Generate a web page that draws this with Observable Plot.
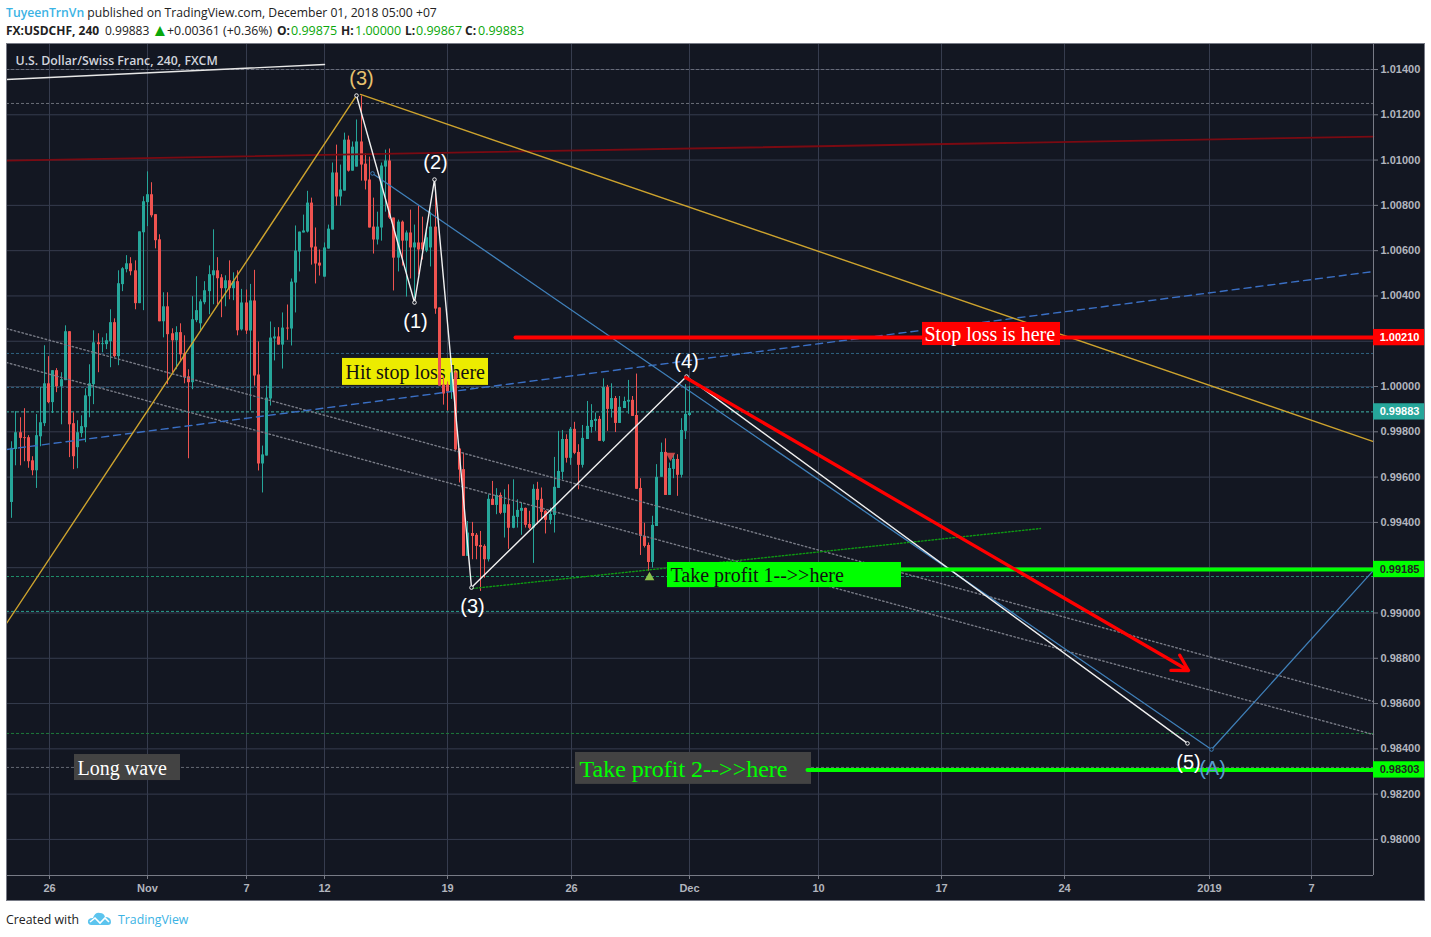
<!DOCTYPE html>
<html><head><meta charset="utf-8">
<script src="https://cdn.jsdelivr.net/npm/d3@7"></script>
<script src="https://cdn.jsdelivr.net/npm/@observablehq/plot@0.6"></script>
<style>
html,body{margin:0;padding:0;background:#fff;width:1431px;height:937px;overflow:hidden}
.h{position:absolute;left:6px;white-space:nowrap;font:12.3px "Open Sans",sans-serif;color:#222}
.u{color:#3bb3e4}.g{color:#0aa70a}.b{font-weight:700}
.v{position:absolute;top:0}
#chart svg{position:absolute;left:6px;top:43px}
</style></head><body>
<div class="h" style="top:4px;font-size:12.2px"><span class="u" style="font-weight:600">TuyeenTrnVn</span> published on TradingView.com, December 01, 2018 05:00 +07</div>
<div class="h" style="top:22px;width:530px;height:18px;font-size:12px">
<span class="v b" style="left:0">FX:USDCHF, 240</span>
<span class="v" style="left:99px">0.99883</span>
<span class="v g" style="left:145.5px;font-size:17px;top:-4px">▲</span>
<span class="v" style="left:161px;font-size:12.4px">+0.00361 (+0.36%)</span>
<span class="v b" style="left:271px">O:</span><span class="v g" style="left:285px;font-size:12.5px">0.99875</span>
<span class="v b" style="left:335px">H:</span><span class="v g" style="left:349px;font-size:12.5px">1.00000</span>
<span class="v b" style="left:399px">L:</span><span class="v g" style="left:410px;font-size:12.5px">0.99867</span>
<span class="v b" style="left:459px">C:</span><span class="v g" style="left:472px;font-size:12.5px">0.99883</span>
</div>
<div id="chart"></div>
<div class="h" style="top:911px">Created with</div>
<svg style="position:absolute;left:87px;top:910px" width="25" height="17" viewBox="0 0 25 17"><path d="M1 13 Q0 8 6 8 Q8 2 13 3 Q17 3 18 7 Q24 7 24 12 Q24 15 21 15 L4 15 Q2 15 1 13Z" fill="#5cc4ee"/><path d="M3 12 L8 8 L13 13 L18 8 L22 12" fill="none" stroke="#fff" stroke-width="1.6"/></svg>
<div class="h u" style="top:911px;left:118px">TradingView</div>
<script>
// OHLC of the 4h candles, in 1e-5 price points
const open=[99488,99722,99796,99774,99774,99672,99628,99778,99836,100012,99929,100070,99999,100026,100242,99836,99730,99792,99818,99955,100008,100193,100185,100185,100198,100282,100132,100450,100516,100542,100511,100366,100679,100812,100847,100759,100648,100286,100352,100233,100202,100238,100145,100043,100017,100291,100277,100370,100419,100489,100511,100480,100432,100467,100432,100463,100250,100369,100245,100378,100051,99658,99693,99945,100210,100219,100183,100258,100254,100457,100594,100678,100682,100810,100616,100545,100483,100607,100691,100943,100837,100863,101088,100951,100969,101080,100982,100912,100704,100647,100700,100969,100996,100744,100567,100726,100642,100678,100612,100634,100634,100598,100612,100704,100347,100007,100007,99976,100060,99724,99633,99250,99351,99343,99298,99294,99235,99502,99475,99519,99440,99478,99374,99422,99449,99462,99391,99374,99546,99502,99449,99409,99431,99550,99621,99766,99683,99811,99709,99652,99766,99819,99846,99855,99758,99996,99899,99947,99837,99903,99931,99939,99872,99550,99338,99298,99223,99382,99599,99709,99519,99634,99678,99608,99802,99872];
const high=[99756,99889,99862,99902,99783,99690,99876,99996,100180,100132,100070,100079,100061,100268,100242,99884,99849,99871,99990,100096,100246,100233,100215,100233,100339,100299,100511,100525,100578,100569,100555,100683,100838,100948,100900,100759,100670,100414,100414,100255,100264,100277,100224,100074,100397,100485,100383,100463,100533,100692,100569,100494,100489,100555,100502,100511,100429,100426,100451,100513,100197,99737,100002,100285,100260,100260,100325,100360,100475,100709,100682,100757,100862,100832,100700,100603,100634,100713,100987,101066,100978,101119,101106,101080,101177,101283,101027,101013,100832,100770,100987,101044,101049,100744,100735,100731,100687,100779,100713,100797,100748,100701,100770,100878,100347,100046,100020,100113,100068,99726,99706,99404,99400,99351,99360,99301,99522,99581,99549,99530,99544,99566,99588,99500,99485,99463,99449,99566,99577,99552,99452,99463,99687,99802,99806,99787,99819,99842,99743,99828,99934,99920,99883,99868,100034,100005,100012,99956,99956,99953,100027,99956,100055,99593,99396,99309,99427,99655,99750,99769,99662,99699,99699,99858,100008,100000];
const low=[99418,99650,99650,99668,99639,99606,99550,99734,99823,99924,99881,99973,99831,100026,99686,99633,99637,99774,99752,99862,99920,100061,100149,100163,100083,100127,100092,100419,100502,100489,100339,100366,100335,100706,100745,100608,100286,100215,100008,100061,100074,100114,100012,99681,99986,100282,100242,100361,100317,100361,100361,100304,100352,100383,100379,100224,100245,100230,99892,100002,99627,99530,99693,99914,100113,100183,100077,100204,100179,100325,100506,100678,100678,100536,100453,100488,100483,100607,100691,100797,100797,100863,100947,100951,100969,100907,100868,100700,100585,100625,100642,100770,100738,100422,100506,100532,100395,100475,100386,100492,100559,100591,100528,100319,100002,99918,99892,99943,99715,99574,99250,99250,99235,99235,99095,99154,99225,99475,99434,99434,99331,99281,99372,99375,99343,99375,99368,99219,99390,99412,99349,99390,99353,99550,99588,99662,99652,99699,99544,99640,99766,99794,99802,99758,99753,99802,99861,99797,99837,99903,99878,99868,99546,99254,99287,99184,99198,99382,99599,99519,99519,99593,99515,99596,99766,99868];
const close=[99727,99796,99771,99770,99668,99628,99783,99840,100012,99929,100070,99999,100030,100242,99831,99690,99796,99823,99959,100012,100193,100185,100189,100202,100282,100132,100454,100520,100542,100507,100366,100683,100816,100847,100754,100644,100286,100352,100229,100202,100238,100140,100039,100017,100295,100335,100374,100423,100494,100511,100476,100432,100467,100432,100463,100246,100369,100245,100378,100046,99658,99698,99949,100214,100219,100183,100258,100254,100461,100598,100682,100687,100810,100612,100541,100532,100612,100695,100943,100837,100868,101088,100951,101057,101080,100978,100907,100700,100647,100704,100974,100996,100744,100567,100726,100642,100678,100612,100634,100603,100603,100657,100704,100342,100002,99967,99976,100060,99720,99631,99250,99353,99338,99294,99290,99235,99502,99475,99519,99440,99478,99374,99427,99453,99462,99387,99374,99546,99497,99444,99409,99435,99555,99625,99766,99683,99811,99705,99652,99771,99824,99850,99855,99758,99996,99899,99947,99837,99908,99934,99939,99868,99546,99338,99294,99223,99387,99599,99709,99519,99638,99678,99608,99806,99877,99883];

// Axes: bar position of each date label, and the price ticks
const dateBars=[9.2,33,57.1,76.1,106,136.2,165,196.3,226.2,256.2,291.5,316.3];
const dateLabels=["26","Nov","7","12","19","26","Dec","10","17","24","2019","7"];
const priceTicks=[1.014,1.012,1.01,1.008,1.006,1.004,1.002,1,0.998,0.996,0.994,0.992,0.99,0.988,0.986,0.984,0.982,0.98];
const hiddenTicks=[1.002,0.992]; // covered by the price tags in the reference
const barDomain=[-1.29,331.4];
const priceDomain=[0.978407,1.015148];

// Horizontal dashed levels
const levelPrices=[1.014,1.0125,1.00146,0.99996,0.99888,0.99161,0.99007,0.98468,0.98318];
const levelColors=["#6a6d78","#6a6d78","#2f6280","#2f6280","#3fb5aa","#1f8f6a","#2aa08f","#1d7a3a","#666a75"];

// Drawn lines
const wave=[[83.9,1.01285],[98,1.00371],[102.8,1.00914],[111.8,0.99112],[164.2,1.00044],[286.1,0.98424]];
const goldUp=[[-1.29,0.98954],[83.9,1.01285]];
const goldDown=[[84.8,1.0129],[331.4,0.99757]];
const bluePath=[[87.7,1.00941],[291.9,0.98397],[331.4,0.99188]];
const blueDash=[[-1.29,0.99722],[331.4,1.00508]];
const darkRed=[[-1.29,1.00998],[331.4,1.01104]];
const topWhite=[[-1.29,1.01356],[76.1,1.01422]];
const dotted1=[[-1.29,1.00256],[331.4,0.98609]];
const dotted2=[[-1.29,1.00106],[331.4,0.98463]];
const greenDotted=[[112,0.99108],[250.3,0.99373]];
const stopLine=[[122.6,1.00216],[331.4,1.00216]];
const tp1Line=[[216.5,0.99192],[331.4,0.99192]];
const tp2Line=[[193.6,0.98307],[331.4,0.98307]];
const redArrow=[{x1:163.9,y1:1.0004,x2:286.3,y2:0.98746}];

// Wave labels
const waveText=["(3)","(2)","(1)","(3)","(4)","(5)","(A)"];
const waveBar=[85.1,103,98.2,112,164.2,286.3,292.2];
const wavePrice=[1.0136,1.00989,1.00287,0.99029,1.00111,0.9834,0.98313];
const waveColor=["#e6c26e","#fff","#fff","#fff","#fff","#fff","#5b9bd0"];

// Text boxes: bars, prices, text
const boxes=[
 {t:"Stop loss is here",x1:221.6,x2:255.2,y1:1.00283,y2:1.00181,bg:"#ff0000",fg:"#fff",fs:20,tx:222.2},
 {t:"Take profit 1-->>here",x1:159.5,x2:216.5,y1:0.99223,y2:0.99112,bg:"#00ff00",fg:"#111",fs:20,tx:160.3},
 {t:"Take profit 2-->>here",x1:137.2,x2:194.6,y1:0.98384,y2:0.98243,bg:"#434343",fg:"#00ff00",fs:24,tx:138.2},
 {t:"Long wave",x1:15.3,x2:41,y1:0.98375,y2:0.9826,bg:"#434343",fg:"#fff",fs:20,tx:16}
];
const hitBox=[{t:"Hit stop loss here",x1:80.5,x2:116,y1:1.00124,y2:1.00005,bg:"#ecec00",fg:"#111",fs:20,tx:81.2}];

// Price tags on the right axis (p = where the tag sits)
const tags=[
 {p:1.00216,t:"1.00210",bg:"#ff0000",fg:"#fff"},
 {p:0.99888,t:"0.99883",bg:"#26a69a",fg:"#fff"},
 {p:0.99192,t:"0.99185",bg:"#00ff00",fg:"#222"},
 {p:0.98307,t:"0.98303",bg:"#00ff00",fg:"#222"}
];
const buyMark=[[155.2,0.99157]];
const sellMark=[[160.3,0.99695]];

const candles=open.map((o,i)=>({i,o:o/1e5,h:high[i]/1e5,l:low[i]/1e5,c:close[i]/1e5,col:close[i]>=o?"#26a69a":"#ef5350"}));
const X=d=>d[0],Y=d=>d[1];
const serif='"Liberation Serif",serif', sans='"Liberation Sans",sans-serif';
const boxMarks=b=>[
 Plot.rect(b,{x1:"x1",x2:"x2",y1:"y1",y2:"y2",fill:"bg"}),
 Plot.text(b,{x:"tx",y:d=>(d.y1+d.y2)/2,dy:1,text:"t",fill:"fg",fontSize:"fs",fontFamily:serif,textAnchor:"start"})
];
const chart=Plot.plot({
 width:1419,height:858,marginLeft:0,marginRight:52,marginTop:0,marginBottom:26,
 style:{background:"#131722",outline:"1px solid #787b86",outlineOffset:"-1px"},
 x:{type:"linear",domain:barDomain,range:[0,1367],round:true},
 y:{type:"linear",domain:priceDomain,range:[832,0]},
 marks:[
  Plot.ruleX(dateBars,{stroke:"#363c4e"}),
  Plot.ruleY(priceTicks,{stroke:"#363c4e"}),
  Plot.ruleY(levelPrices,{stroke:(d,i)=>levelColors[i],strokeDasharray:"3,2",x1:barDomain[0],x2:barDomain[1]}),
  ...boxMarks(hitBox),
  Plot.ruleX(candles,{x:"i",y1:"l",y2:"h",stroke:"col",strokeWidth:1}),
  Plot.ruleX(candles,{x:"i",y1:"o",y2:"c",stroke:"col",strokeWidth:3}),
  Plot.line(dotted1,{x:X,y:Y,stroke:"#787b86",strokeDasharray:"1.5,2.5",strokeWidth:1.4}),
  Plot.line(dotted2,{x:X,y:Y,stroke:"#787b86",strokeDasharray:"1.5,2.5",strokeWidth:1.4}),
  Plot.line(darkRed,{x:X,y:Y,stroke:"#7a0a12",strokeWidth:1.8}),
  Plot.line(blueDash,{x:X,y:Y,stroke:"#3a6fc4",strokeWidth:1.4,strokeDasharray:"7,5"}),
  Plot.line(topWhite,{x:X,y:Y,stroke:"#e8e8e8",strokeWidth:1.4}),
  Plot.line(goldUp,{x:X,y:Y,stroke:"#cda32e",strokeWidth:1.4}),
  Plot.line(goldDown,{x:X,y:Y,stroke:"#cda32e",strokeWidth:1.4}),
  Plot.line(bluePath,{x:X,y:Y,stroke:"#3f7fb8",strokeWidth:1.3}),
  Plot.line(greenDotted,{x:X,y:Y,stroke:"#0e9a12",strokeDasharray:"1.5,2",strokeWidth:1.4}),
  Plot.line(wave,{x:X,y:Y,stroke:"#f0f0f0",strokeWidth:1.4}),
  Plot.dot(wave,{x:X,y:Y,r:1.8,stroke:"#f0f0f0",fill:"#131722",strokeWidth:1}),
  Plot.dot(bluePath.slice(0,2),{x:X,y:Y,r:1.8,stroke:"#3f7fb8",fill:"#131722",strokeWidth:1}),
  Plot.line(stopLine,{x:X,y:Y,stroke:"#ff0000",strokeWidth:4}),
  Plot.line(tp1Line,{x:X,y:Y,stroke:"#00ff00",strokeWidth:4}),
  Plot.arrow(redArrow,{x1:"x1",y1:"y1",x2:"x2",y2:"y2",stroke:"#ff0000",strokeWidth:3.3,bend:0,headLength:8,headAngle:60}),
  ...boxMarks(boxes),
  Plot.line(tp2Line,{x:X,y:Y,stroke:"#00ff00",strokeWidth:4}),
  Plot.dot(buyMark,{x:X,y:Y,symbol:"triangle",r:3.6,fill:"#8bc34a"}),
  Plot.dot(sellMark,{x:X,y:Y,symbol:"triangle",rotate:180,r:3.6,fill:"#ef5350",fillOpacity:.8}),
  Plot.text(waveText,{x:(d,i)=>waveBar[i],y:(d,i)=>wavePrice[i],text:d=>d,fill:(d,i)=>waveColor[i],fontSize:20,fontFamily:sans}),
  Plot.text(["U.S. Dollar/Swiss Franc, 240, FXCM"],{frameAnchor:"top-left",dx:9,dy:13,fill:"#d1d4dc",fontSize:12.3,fontWeight:600,fontFamily:'"Open Sans",sans-serif'}),
  Plot.ruleX([barDomain[1]],{stroke:"#787b86"}),
  Plot.ruleY([priceDomain[0]],{stroke:"#787b86"}),
  Plot.axisY({anchor:"right",ticks:priceTicks,tickFormat:d=>hiddenTicks.includes(d)?"":d.toFixed(5),tickSize:4,tickPadding:3,label:null,stroke:"#787b86",fill:"#b2b5be",fontSize:11,fontWeight:700,fontFamily:sans}),
  Plot.axisX({anchor:"bottom",ticks:dateBars,tickFormat:d=>dateLabels[dateBars.indexOf(d)],tickSize:4,tickPadding:5,label:null,stroke:"#787b86",fill:"#b2b5be",fontSize:11,fontWeight:700,fontFamily:sans}),
  Plot.rect(tags,{x1:barDomain[1],x2:343.8,y1:d=>d.p+0.00036,y2:d=>d.p-0.00036,fill:"bg"}),
  Plot.text(tags,{x:337.8,y:"p",text:"t",fill:"fg",fontSize:11,fontWeight:700,fontFamily:sans})
 ]
});
document.getElementById("chart").append(chart);
</script>
</body></html>
